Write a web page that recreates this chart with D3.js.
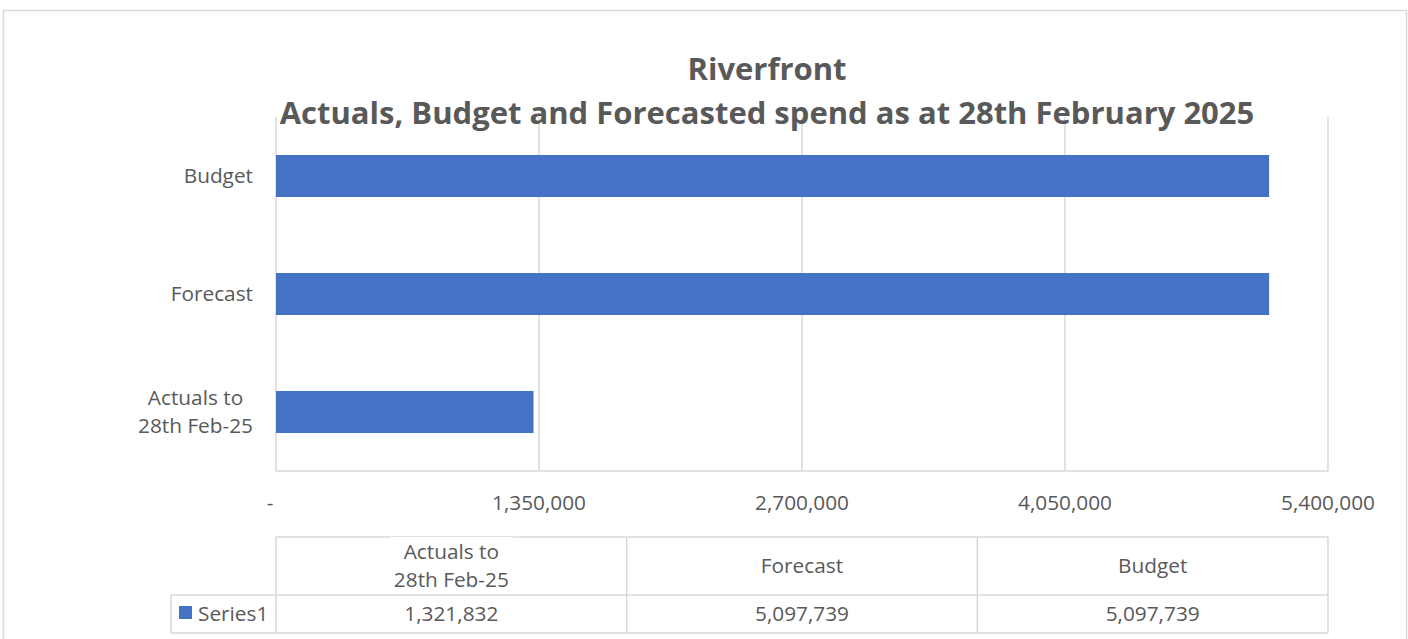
<!DOCTYPE html>
<html>
<head>
<meta charset="utf-8">
<script src="https://cdn.jsdelivr.net/npm/d3@7"></script>
<style>
  html, body { margin: 0; padding: 0; background: #fff; }
  svg { display: block; font-family: 'Open Sans', sans-serif; }
</style>
</head>
<body>
<div id="chart"></div>
<script>
const categories = [['Actuals to', '28th Feb-25'], ['Forecast'], ['Budget']];
const values = [1321832, 5097739, 5097739];
const ticks = [0, 1350000, 2700000, 4050000, 5400000];
const seriesName = 'Series1';
const titleLines = ['Riverfront', 'Actuals, Budget and Forecasted spend as at 28th February 2025'];

const textColor = '#595959';
const lineColor = '#d9d9d9';
const barColor = '#4472c4';
const fontSize = 20.8;

const [width, height] = [1408, 639];
const plot = { left: 276, right: 1328, top: 117, bottom: 471 };

const svg = d3.select('#chart')
  .append('svg')
  .attr('width', width)
  .attr('height', height);

// outer chart border
svg.append('rect')
  .attr('x', 3.5)
  .attr('y', 10.5)
  .attr('width', 1403)
  .attr('height', 700)
  .attr('fill', '#fff')
  .attr('stroke', lineColor)
  .attr('stroke-width', 1.5);

const fx = d3.scaleLinear()
  .domain([0, d3.max(ticks)])
  .range([plot.left, plot.right]);

const keys = categories.map(d => d.join(' '));

const fy = d3.scaleBand()
  .domain(keys.slice().reverse())
  .range([plot.top, plot.bottom])
  .paddingInner(0.644)
  .paddingOuter(0.322);

// gridlines
svg.append('g')
  .selectAll('line')
  .data(ticks)
  .join('line')
  .attr('x1', d => fx(d))
  .attr('x2', d => fx(d))
  .attr('y1', plot.top)
  .attr('y2', plot.bottom)
  .attr('stroke', lineColor)
  .attr('stroke-width', 1.5);

svg.append('line')
  .attr('x1', plot.left)
  .attr('x2', plot.right)
  .attr('y1', plot.bottom)
  .attr('y2', plot.bottom)
  .attr('stroke', lineColor)
  .attr('stroke-width', 1.5);

// bars
svg.append('g')
  .selectAll('rect')
  .data(values)
  .join('rect')
  .attr('x', fx(0))
  .attr('y', (d, i) => fy(keys[i]))
  .attr('width', d => fx(d) - fx(0))
  .attr('height', fy.bandwidth())
  .attr('fill', barColor);

// x tick labels
const fmt = d3.format(',');
svg.append('g')
  .selectAll('text')
  .data(ticks)
  .join('text')
  .attr('x', d => fx(d) - (d === 0 ? 6 : 0))
  .attr('y', 510)
  .attr('text-anchor', 'middle')
  .attr('font-size', fontSize)
  .attr('fill', textColor)
  .text(d => (d === 0 ? '-' : fmt(d)));

// category labels: lines centred on each other, block right-aligned
const catG = svg.append('g')
  .attr('font-size', fontSize)
  .attr('fill', textColor);

categories.forEach((lines, i) => {
  const cy = fy(keys[i]) + fy.bandwidth() / 2;
  const t = catG.append('text').attr('text-anchor', 'middle');
  lines.forEach((ln, j) => {
    t.append('tspan')
      .attr('y', cy + 7 + (j - (lines.length - 1) / 2) * 28)
      .text(ln);
  });
  const w = d3.max(t.selectAll('tspan').nodes(), n => n.getComputedTextLength());
  t.selectAll('tspan').attr('x', 253 - w / 2);
});

// title
svg.append('g')
  .attr('font-weight', 700)
  .attr('font-size', 31)
  .attr('fill', textColor)
  .attr('text-anchor', 'middle')
  .selectAll('text')
  .data(titleLines)
  .join('text')
  .attr('x', 767)
  .attr('y', (d, i) => 80 + i * 44)
  .text(d => d);

// data table
const colW = (plot.right - plot.left) / values.length;
const hdrTop = 537;
const rowTop = 595;
const rowBottom = 633;
const legendLeft = 171;

const table = svg.append('g');

const hLines = [
  [plot.left, plot.right, hdrTop],
  [legendLeft, plot.right, rowTop],
  [legendLeft, plot.right, rowBottom]
];
table.selectAll('.h')
  .data(hLines)
  .join('line')
  .attr('class', 'h')
  .attr('x1', d => d[0])
  .attr('x2', d => d[1])
  .attr('y1', d => d[2])
  .attr('y2', d => d[2])
  .attr('stroke', lineColor)
  .attr('stroke-width', 1.5);

const vLines = d3.range(values.length + 1).map(i => [plot.left + i * colW, hdrTop, rowBottom])
  .concat([[legendLeft, rowTop, rowBottom]]);
table.selectAll('.v')
  .data(vLines)
  .join('line')
  .attr('class', 'v')
  .attr('x1', d => d[0])
  .attr('x2', d => d[0])
  .attr('y1', d => d[1])
  .attr('y2', d => d[2])
  .attr('stroke', lineColor)
  .attr('stroke-width', 1.5);

const hdrG = table.append('g')
  .attr('font-size', fontSize)
  .attr('fill', textColor)
  .attr('text-anchor', 'middle');

categories.forEach((lines, i) => {
  const cx = plot.left + (i + 0.5) * colW;
  const cy = (hdrTop + rowTop) / 2;
  const t = hdrG.append('text');
  lines.forEach((ln, j) => {
    t.append('tspan')
      .attr('x', cx)
      .attr('y', cy + 7 + (j - (lines.length - 1) / 2) * 28)
      .text(ln);
  });
  // header text overflowing the cell hides the border behind it
  if (lines.length > 1) {
    const b = t.node().getBBox();
    hdrG.insert('rect', 'text')
      .attr('x', b.x - 4)
      .attr('y', b.y)
      .attr('width', b.width + 8)
      .attr('height', b.height)
      .attr('fill', '#fff');
  }
});

table.append('g')
  .attr('font-size', fontSize)
  .attr('fill', textColor)
  .attr('text-anchor', 'middle')
  .selectAll('text')
  .data(values)
  .join('text')
  .attr('x', (d, i) => plot.left + (i + 0.5) * colW)
  .attr('y', (rowTop + rowBottom) / 2 + 7)
  .text(d => fmt(d));

table.append('rect')
  .attr('x', 179)
  .attr('y', 606)
  .attr('width', 13)
  .attr('height', 13)
  .attr('fill', barColor);

table.append('text')
  .attr('x', 198)
  .attr('y', (rowTop + rowBottom) / 2 + 7)
  .attr('font-size', fontSize)
  .attr('fill', textColor)
  .text(seriesName);
</script>
</body>
</html>
